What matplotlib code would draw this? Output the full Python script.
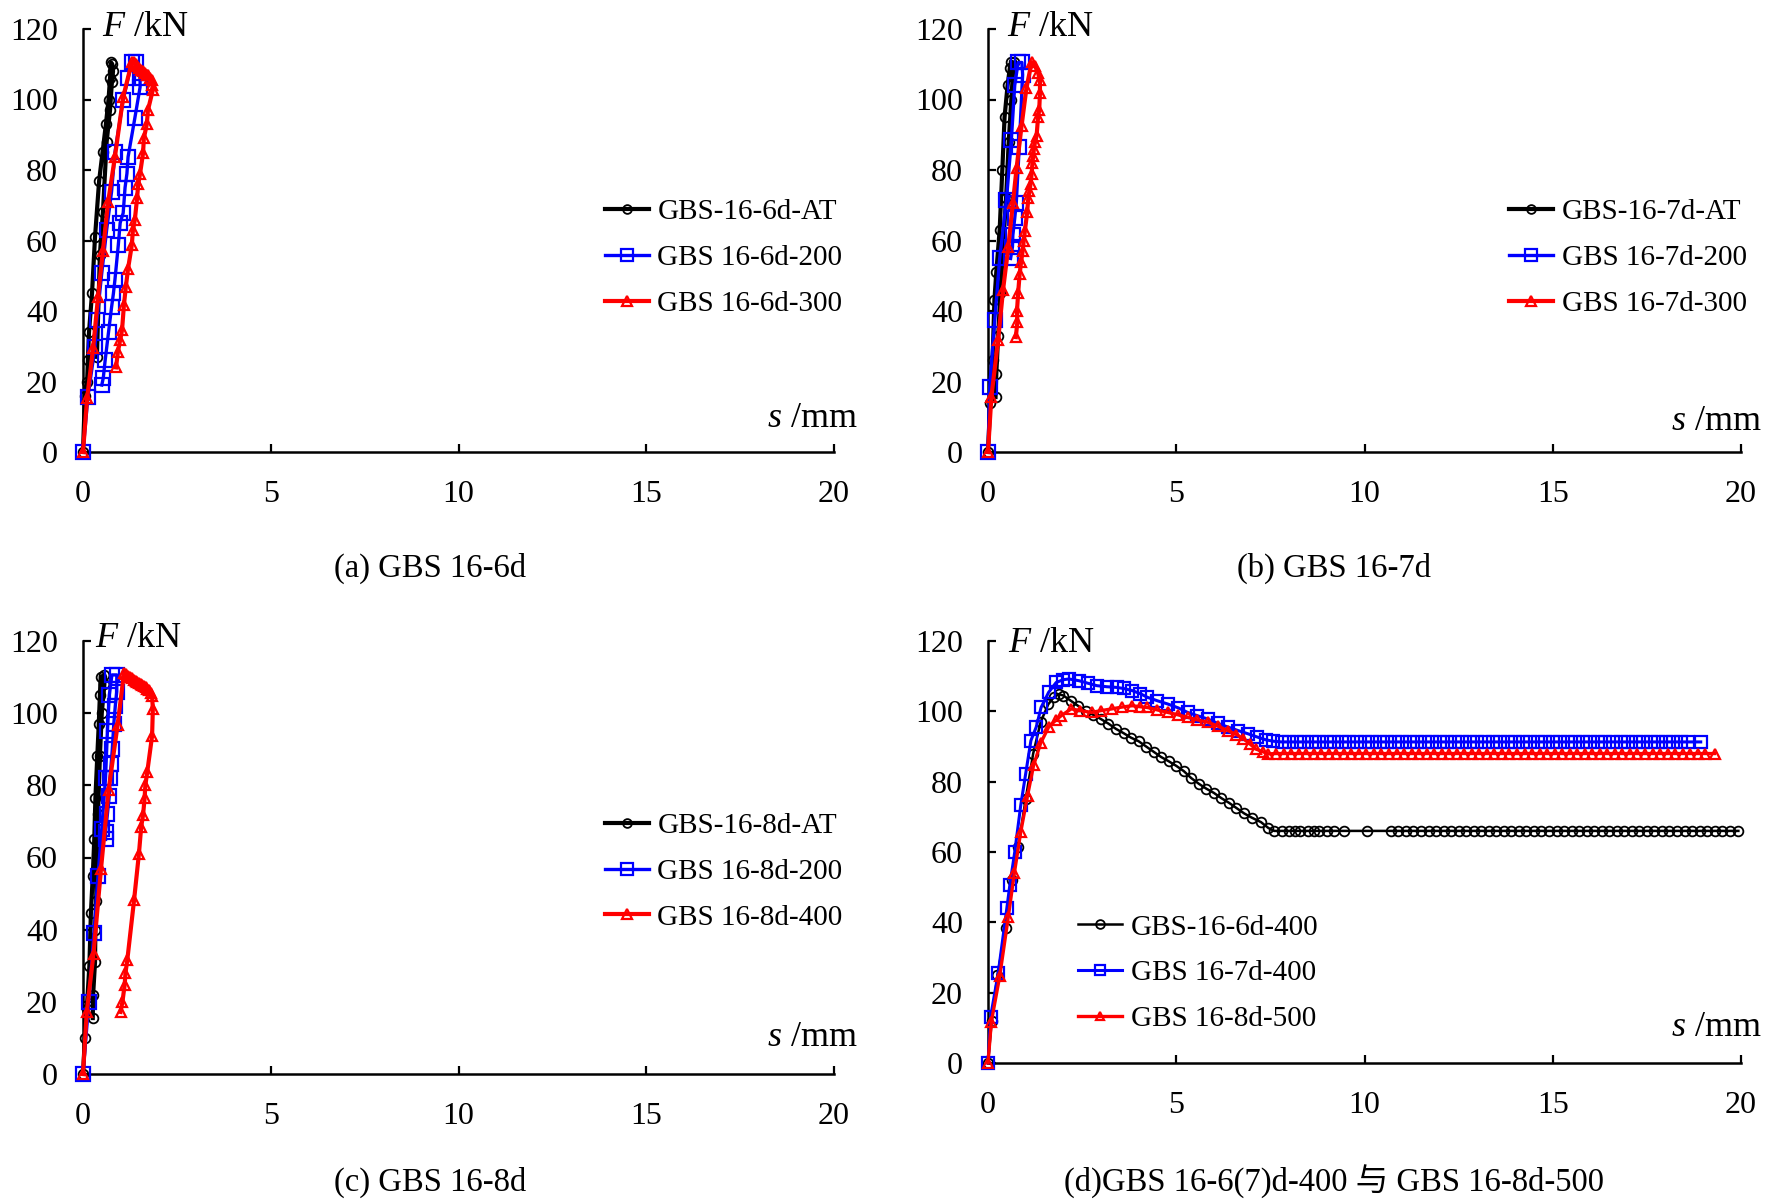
import numpy as np
import matplotlib
matplotlib.use("Agg")
import matplotlib.pyplot as plt

plt.rcParams['font.family'] = ['Liberation Serif', 'Noto Sans CJK SC']
plt.rcParams['mathtext.fontset'] = 'custom'
plt.rcParams['mathtext.it'] = 'Liberation Serif:italic'
plt.rcParams['mathtext.rm'] = 'Liberation Serif'

# ---- panel (a) GBS 16-6d ----
a_at_s = [0, 0.05, 0.11, 0.13, 0.16, 0.24, 0.32, 0.43, 0.52, 0.61, 0.68, 0.72, 0.75, 0.78, 0.80, 0.77, 0.72, 0.63, 0.53, 0.45, 0.37]
a_at_F = [0, 16, 20, 26, 34, 45, 61, 77, 85, 93, 100, 106, 110.5, 110, 108, 105, 97, 88, 68, 56, 27]
a_200_s = [0, 0.13, 0.32, 0.37, 0.50, 0.63, 0.76, 0.85, 1.07, 1.20, 1.30, 1.42, 1.52, 1.52,
           1.38, 1.20, 1.17, 1.12, 1.07, 0.99, 0.94, 0.85, 0.81, 0.76, 0.68, 0.59, 0.54, 0.50]
a_200_F = [0, 15.6, 29.8, 37.4, 50.8, 63, 73.8, 85, 99.9, 106, 110.5, 110.5, 106, 103.5,
           94.7, 83.7, 79, 75, 67.8, 65, 58.7, 48.8, 45, 41, 34, 26, 21, 19]
a_300_s = [0, 0.11, 0.27, 0.40, 0.53, 0.67, 0.85, 1.07, 1.30, 1.35, 1.40, 1.45, 1.50, 1.55, 1.60, 1.65, 1.70,
           1.73, 1.78, 1.83, 1.85, 1.86, 1.73, 1.70, 1.62, 1.60, 1.52, 1.47, 1.44, 1.38, 1.33, 1.30,
           1.20, 1.14, 1.09, 1.04, 0.99, 0.93, 0.88]
a_300_F = [0, 15.3, 29.5, 44, 57, 71, 83.7, 100.7, 110.6, 110.5, 110.2, 109.5, 109, 108.5, 108, 107.5, 107,
           107, 106.2, 105.5, 104, 102.7, 97, 93, 89, 84.8, 79, 76, 72, 65.8, 63, 58.7,
           52, 46.8, 41.7, 34.6, 31.8, 28.4, 24]

# ---- panel (b) GBS 16-7d ----
b_at_s = [0, 0.06, 0.12, 0.17, 0.22, 0.31, 0.38, 0.44, 0.52, 0.58, 0.62, 0.68,
          0.62, 0.55, 0.48, 0.40, 0.33, 0.27, 0.22, 0.20]
b_at_F = [0, 14, 26, 43, 51, 63, 80, 95, 104, 109, 110.7, 110.5,
          100, 88, 72, 58, 45, 33, 22, 15.6]
b_200_s = [0, 0.045, 0.18, 0.31, 0.49, 0.62, 0.71, 0.80, 0.90, 0.92, 0.83, 0.75, 0.71, 0.66, 0.65, 0.60]
b_200_F = [0, 18.5, 37.4, 54.9, 71.5, 88.5, 104, 110.5, 110.5, 107, 86.6, 70.5, 66.3, 61.5, 58.2, 54.9]
b_300_s = [0, 0.09, 0.27, 0.40, 0.54, 0.66, 0.76, 0.89, 1.02, 1.16, 1.25, 1.33, 1.38, 1.38,
           1.36, 1.33, 1.29, 1.25, 1.22, 1.20, 1.18, 1.16, 1.13, 1.10, 1.07, 1.04, 0.98, 0.95,
           0.92, 0.88, 0.84, 0.80, 0.77, 0.78, 0.74]
b_300_F = [0, 15.7, 31.8, 46, 58.2, 70.5, 80.6, 92.4, 103.2, 110.6, 109.5, 107.5, 105.5, 101.8,
           97, 95, 89.6, 88, 86, 84, 82, 79, 76, 74, 72, 68, 62.7, 60,
           57, 54, 50.4, 45, 40, 37, 32.6]

# ---- panel (c) GBS 16-8d ----
c_at_s = [0, 0.05, 0.10, 0.17, 0.21, 0.26, 0.30, 0.33, 0.38, 0.42, 0.45, 0.47, 0.55, 0.57,
          0.50, 0.45, 0.40, 0.37, 0.35, 0.33, 0.32, 0.27, 0.26]
c_at_F = [0, 10, 18, 30, 44.5, 55, 65, 76.4, 88, 97, 105, 110, 110.5, 108,
          100, 88, 72, 60, 48, 40, 31, 22, 15.5]
c_200_s = [0, 0.155, 0.29, 0.40, 0.50, 0.60, 0.65, 0.70, 0.77, 0.90, 0.90,
           0.86, 0.82, 0.78, 0.75, 0.72, 0.70, 0.65, 0.60, 0.60]
c_200_F = [0, 20, 39, 55, 68, 82, 95, 105, 110.6, 110.6, 106,
           102, 97, 90, 86, 82, 77, 72, 67, 65]
c_400_s = [0, 0.10, 0.28, 0.48, 0.68, 0.92, 1.09, 1.15, 1.20, 1.25, 1.30, 1.35, 1.40, 1.45, 1.50, 1.55,
           1.58, 1.62, 1.67, 1.70, 1.75, 1.80, 1.84, 1.86, 1.84, 1.71, 1.66, 1.64, 1.60, 1.55, 1.49,
           1.36, 1.18, 1.13, 1.11, 1.05, 1.00]
c_400_F = [0, 17.2, 33.3, 56.9, 78.6, 96.6, 111, 110.8, 110.3, 110, 109.7, 109.3, 109, 108.7, 108.3, 108,
           107.8, 107.6, 107.2, 106.8, 106.3, 105.5, 104.8, 101.1, 93.7, 83.6, 80, 76.4, 71.8, 68.5, 61.1,
           48.2, 31.6, 27.9, 24.7, 20, 17.2]

# ---- panel (d) GBS 16-6(7)d-400 and GBS 16-8d-500 ----
d_6_s = [0, 0.10, 0.25, 0.47, 0.65, 0.80, 1.00, 1.20, 1.40, 1.60, 1.75, 1.88,
         2.0, 2.2, 2.4, 2.6, 2.8, 3.0, 3.2, 3.4, 3.6, 3.8, 4.0, 4.2, 4.4, 4.6, 4.8, 5.0, 5.2, 5.4,
         5.6, 5.8, 6.0, 6.2, 6.4, 6.6, 6.8, 7.0, 7.25, 7.45, 7.6,
         7.8, 8.0, 8.15, 8.3, 8.5, 8.65, 8.8, 9.0, 9.2, 9.45, 10.07, 10.7, 10.9, 11.1, 11.3, 11.5,
         11.7, 11.9, 12.1, 12.3, 12.5, 12.7, 12.9, 13.1, 13.3, 13.5, 13.7, 13.9, 14.1, 14.3, 14.5,
         14.7, 14.9, 15.1, 15.3, 15.5, 15.7, 15.9, 16.1, 16.3, 16.5, 16.7, 16.9, 17.1, 17.3, 17.5,
         17.7, 17.9, 18.1, 18.3, 18.5, 18.7, 18.9, 19.1, 19.3, 19.5, 19.7, 19.93]
d_6_F = [0, 12, 25, 38.3, 52, 61.4, 75, 88, 97, 102, 104, 104.9,
         104.5, 103, 101.5, 100, 99, 97.8, 96.5, 95, 93.8, 92.5, 91.5, 90, 88.5, 87, 85.8, 84.5, 83, 81,
         79.4, 78, 76.8, 75.3, 74, 72.5, 71, 69.8, 68.5, 66.8, 66,
         66, 66, 66, 66, 66, 66, 66, 66, 66, 66, 66, 66, 66, 66, 66, 66,
         66, 66, 66, 66, 66, 66, 66, 66, 66, 66, 66, 66, 66, 66, 66,
         66, 66, 66, 66, 66, 66, 66, 66, 66, 66, 66, 66, 66, 66, 66,
         66, 66, 66, 66, 66, 66, 66, 66, 66, 66, 66, 66]
d_7_s = [0, 0.07, 0.27, 0.50, 0.58, 0.71, 0.87, 1.00, 1.14, 1.28, 1.41, 1.61, 1.81, 2.00, 2.15, 2.42,
         2.65, 2.89, 3.15, 3.42, 3.60, 3.83, 4.05, 4.23, 4.50, 4.77, 5.05, 5.30, 5.55, 5.84, 6.10,
         6.38, 6.65, 6.91, 7.15, 7.38, 7.58,
         7.8, 8.0, 8.2, 8.4, 8.6, 8.8, 9.0, 9.2, 9.4, 9.6, 9.8, 10.0, 10.2, 10.4, 10.6, 10.8, 11.0,
         11.2, 11.4, 11.6, 11.8, 12.0, 12.2, 12.4, 12.6, 12.8, 13.0, 13.2, 13.4, 13.6, 13.8, 14.0,
         14.2, 14.4, 14.6, 14.8, 15.0, 15.2, 15.4, 15.6, 15.8, 16.0, 16.2, 16.4, 16.6, 16.8, 17.0,
         17.2, 17.4, 17.6, 17.8, 18.0, 18.2, 18.4, 18.6, 18.93]
d_7_F = [0, 13.2, 25.5, 44, 50.6, 60, 73.3, 82.2, 91.7, 95.5, 101.1, 105.4, 108.2, 109, 109.2, 108.7,
         108, 107.3, 107, 106.8, 106.5, 105.9, 105, 104, 103, 102.1, 101, 99.7, 98.8, 97.8, 96.6,
         95.5, 94.5, 93.6, 92.7, 91.9, 91.5,
         91.3, 91.3, 91.3, 91.3, 91.3, 91.3, 91.3, 91.3, 91.3, 91.3, 91.3, 91.3, 91.3, 91.3, 91.3, 91.3, 91.3,
         91.3, 91.3, 91.3, 91.3, 91.3, 91.3, 91.3, 91.3, 91.3, 91.3, 91.3, 91.3, 91.3, 91.3, 91.3,
         91.3, 91.3, 91.3, 91.3, 91.3, 91.3, 91.3, 91.3, 91.3, 91.3, 91.3, 91.3, 91.3, 91.3, 91.3,
         91.3, 91.3, 91.3, 91.3, 91.3, 91.3, 91.3, 91.3, 91.3]
d_8_s = [0, 0.09, 0.31, 0.54, 0.70, 0.87, 1.05, 1.21, 1.40, 1.61, 1.80, 1.95, 2.21, 2.45, 2.75,
         3.00, 3.29, 3.55, 3.83, 4.05, 4.23, 4.50, 4.77, 5.05, 5.30, 5.55, 5.84, 6.10, 6.38, 6.60,
         6.78, 6.95, 7.11, 7.30, 7.45,
         7.65, 7.85, 8.05, 8.25, 8.45, 8.65, 8.85, 9.05, 9.25, 9.45, 9.65, 9.85, 10.05, 10.25, 10.45,
         10.65, 10.85, 11.05, 11.25, 11.45, 11.65, 11.85, 12.05, 12.25, 12.45, 12.65, 12.85, 13.05,
         13.25, 13.45, 13.65, 13.85, 14.05, 14.25, 14.45, 14.65, 14.85, 15.05, 15.25, 15.45, 15.65,
         15.85, 16.05, 16.25, 16.45, 16.65, 16.85, 17.05, 17.25, 17.45, 17.65, 17.85, 18.05, 18.25,
         18.45, 18.65, 18.85, 19.05, 19.3]
d_8_F = [0, 11.8, 24.6, 41.6, 54, 65.7, 76, 84.6, 91, 95.5, 97.5, 98.8, 100.7, 100.2, 99.7,
         100.2, 100.7, 101.2, 101.6, 101.3, 101.1, 100.4, 99.7, 99, 98.3, 97.6, 96.9, 95.8, 94.5, 93.4,
         92.2, 90.8, 89.3, 88.5, 87.9,
         88, 88, 88, 88, 88, 88, 88, 88, 88, 88, 88, 88, 88, 88, 88,
         88, 88, 88, 88, 88, 88, 88, 88, 88, 88, 88, 88, 88,
         88, 88, 88, 88, 88, 88, 88, 88, 88, 88, 88, 88, 88,
         88, 88, 88, 88, 88, 88, 88, 88, 88, 88, 88, 88, 88,
         88, 88, 88, 88, 88]

captions = ['(a) GBS 16-6d', '(b) GBS 16-7d', '(c) GBS 16-8d', '(d)GBS 16-6(7)d-400 与 GBS 16-8d-500']

fig = plt.figure(figsize=(17.73, 12.03), dpi=100)
W, H = 1773, 1203


def make_ax(l, r, b, t):
    return fig.add_axes([l / W, 1 - b / H, (r - l) / W, (b - t) / H])


axes = [make_ax(83, 834, 452, 29), make_ax(988, 1741, 452, 29),
        make_ax(83, 834, 1074, 641), make_ax(988, 1741, 1063, 641)]

big = dict(lw_k=3.0, lw_b=2.4, lw_r=3.0, ms_o=7, ms_s=10, ms_t=7.5)
small = dict(lw_k=1.8, lw_b=2.2, lw_r=2.4, ms_o=7, ms_s=8, ms_t=6.5)

panels = [
    [(a_at_s, a_at_F, 'GBS-16-6d-AT'), (a_200_s, a_200_F, 'GBS 16-6d-200'), (a_300_s, a_300_F, 'GBS 16-6d-300')],
    [(b_at_s, b_at_F, 'GBS-16-7d-AT'), (b_200_s, b_200_F, 'GBS 16-7d-200'), (b_300_s, b_300_F, 'GBS 16-7d-300')],
    [(c_at_s, c_at_F, 'GBS-16-8d-AT'), (c_200_s, c_200_F, 'GBS 16-8d-200'), (c_400_s, c_400_F, 'GBS 16-8d-400')],
    [(d_6_s, d_6_F, 'GBS-16-6d-400'), (d_7_s, d_7_F, 'GBS 16-7d-400'), (d_8_s, d_8_F, 'GBS 16-8d-500')],
]
leg_pos = [(0.695, 0.459), (0.692, 0.459), (0.695, 0.467), (0.12, 0.213)]
flab_pos = [(0.025, 1.003), (0.025, 1.003), (0.016, 1.005), (0.026, 0.995)]
slab_pos = [(1.031, 0.08), (1.028, 0.073), (1.031, 0.085), (1.028, 0.083)]
cap_pos = [(430, 568), (1334, 568), (430, 1182), (1334, 1182)]

for i, ax in enumerate(axes):
    st = small if i == 3 else big
    (s1, f1, l1), (s2, f2, l2), (s3, f3, l3) = panels[i]
    ax.plot(s1, f1, color='black', lw=st['lw_k'], marker='o', ms=st['ms_o'], mfc='none',
            mew=1.3, label=l1, clip_on=False, zorder=3)
    ax.plot(s2, f2, color='#0000ff', lw=st['lw_b'], marker='s', ms=st['ms_s'], mfc='none',
            mew=1.6, label=l2, clip_on=False, zorder=4)
    ax.plot(s3, f3, color='#ff0000', lw=st['lw_r'], marker='^', ms=st['ms_t'], mfc='none',
            mew=1.6, label=l3, clip_on=False, zorder=5)
    ax.set_xlim(0, 20)
    ax.set_ylim(0, 120)
    ax.set_xticks([0, 5, 10, 15, 20])
    ax.set_yticks([0, 20, 40, 60, 80, 100, 120])
    for sp in ['top', 'right']:
        ax.spines[sp].set_visible(False)
    for sp in ['left', 'bottom']:
        ax.spines[sp].set_linewidth(1.8)
    ax.tick_params(direction='in', length=6, width=1.6, labelsize=23, pad=18)
    ax.tick_params(axis='x', pad=20)
    ax.text(*flab_pos[i], r'$\mathit{F}$ /kN', transform=ax.transAxes, fontsize=26,
            ha='left', va='center')
    ax.text(*slab_pos[i], r'$\mathit{s}$ /mm', transform=ax.transAxes, fontsize=26,
            ha='right', va='center')
    ax.legend(loc='center left', bbox_to_anchor=leg_pos[i], frameon=False, fontsize=21,
              borderpad=0, borderaxespad=0, handlelength=1.5, handletextpad=0.3,
              labelspacing=0.66, markerscale=0.9)
    fig.text(cap_pos[i][0] / W, 1 - cap_pos[i][1] / H, captions[i], fontsize=23.5,
             ha='center', va='center')

fig.savefig('out.png', dpi=100)
